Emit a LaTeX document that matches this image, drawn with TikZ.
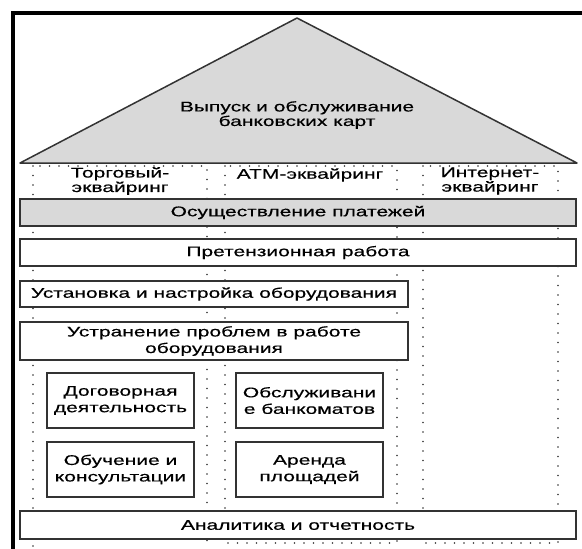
\documentclass[tikz,border=0pt]{standalone}
\usepackage{fontspec}
\setmainfont{Liberation Sans}[FakeStretch=1.5, FakeBold=0.4]
\definecolor{boxline}{HTML}{333333}
\definecolor{roofgray}{HTML}{D9D9D9}
\definecolor{dotgray}{HTML}{333333}
\begin{document}
\begin{tikzpicture}[x=1pt,y=-1pt,
  txt/.style={font=\fontsize{14}{16.5}\selectfont, align=center, inner sep=0pt},
  head/.style={txt, font=\fontsize{14}{14.5}\selectfont},
  box/.style={txt, draw=boxline, line width=1.7pt, fill=white},
  graybox/.style={box, fill=roofgray},
  column/.style={draw=dotgray, line width=1.6pt, line cap=round, dash pattern=on 0pt off 9.5pt}]
\useasboundingbox (0,0) rectangle (582,549);

% dotted acquiring columns
\draw[column] (33,166) rectangle (207,575);
\draw[column] (225,166) rectangle (397,543);
\draw[column] (423,166) rectangle (558,543);

% roof
\draw[fill=roofgray, draw=boxline, line width=1.5pt, line join=round]
  (20,163) -- (297,18) -- (577,163) -- cycle;
\node[head] (roof) at (297,115) {Выпуск и обслуживание\\банковских карт};

% column headings
\node[head] (trade) at (120,181) {Торговый-\\эквайринг};
\node[head] (atm)   at (310,175) {АТМ-эквайринг};
\node[head] (web)   at (490,181) {Интернет-\\эквайринг};

% horizontal service layers
\node[graybox, minimum width=556, minimum height=27] (pay)     at (298,212.5) {Осуществление платежей};
\node[box, minimum width=556, minimum height=27]     (claim)   at (298,252.5) {Претензионная работа};
\node[box, minimum width=388, minimum height=26]     (install) at (214,294)   {Установка и настройка оборудования};
\node[box, minimum width=388, minimum height=38]     (fix)     at (214,341)   {Устранение проблем в работе\\оборудования};

% per-column services
\node[box, minimum width=147, minimum height=55] (contract) at (120.5,400.5) {Договорная\\деятельность};
\node[box, minimum width=147, minimum height=55] (train)    at (120.5,469.5) {Обучение и\\консультации};
\node[box, minimum width=147, minimum height=55] (service)  at (309.5,400.5) {Обслуживани\\е банкоматов};
\node[box, minimum width=147, minimum height=55] (rent)     at (309.5,469.5) {Аренда\\площадей};

\node[box, minimum width=556, minimum height=28] (report) at (298,525) {Аналитика и отчетность};

% outer frame
\draw[line width=4pt] (13,560) -- (13,13) -- (590,13);
\end{tikzpicture}
\end{document}
